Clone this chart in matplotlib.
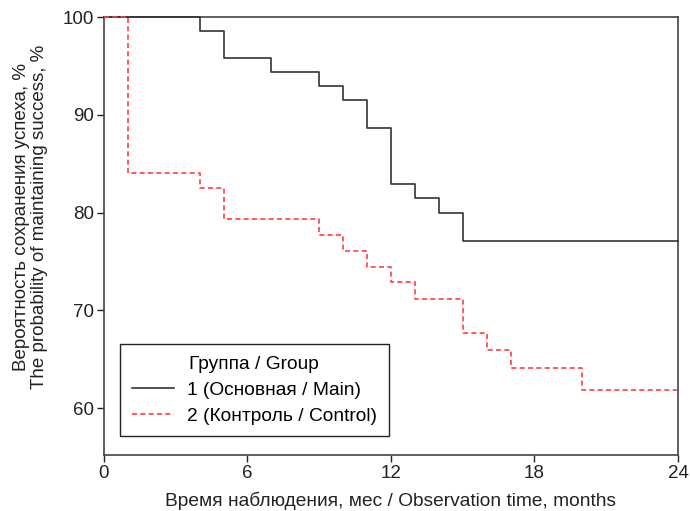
import matplotlib
matplotlib.use("Agg")
import matplotlib.pyplot as plt

plt.rcParams['font.family'] = ['Liberation Sans', 'DejaVu Sans']

# Kaplan-Meier steps (time in months, survival in %)
main_t = [0, 4, 5, 7, 9, 10, 11, 12, 13, 14, 15, 24]
main_s = [100, 98.57, 95.77, 94.37, 92.94, 91.54, 88.67, 82.94, 81.5, 80.0, 77.1, 77.1]

ctrl_t = [0, 1, 4, 5, 9, 10, 11, 12, 13, 15, 16, 17, 20, 24]
ctrl_s = [100, 84.06, 82.46, 79.3, 77.7, 76.1, 74.48, 72.9, 71.17, 67.7, 65.95, 64.1, 61.8, 61.8]

x_ticks = [0, 6, 12, 18, 24]
y_ticks = [60, 70, 80, 90, 100]

fs = 13.8

fig = plt.figure(figsize=(6.9, 5.11), dpi=100)
ax = fig.add_axes([0.1507, 0.1096, 0.8319, 0.8571])

ax.step(main_t, main_s, where='post', color='#333333', lw=1.2,
        label='1 (Основная / Main)', zorder=3, clip_on=False)
ax.step(ctrl_t, ctrl_s, where='post', color='#ff4040', lw=1.2,
        ls=(0, (3, 2)), label='2 (Контроль / Control)', zorder=3, clip_on=False)

ax.set_xlim(0, 24)
ax.set_ylim(55.2, 100)
ax.set_xticks(x_ticks)
ax.set_yticks(y_ticks)
ax.tick_params(direction='out', length=5, width=1, labelsize=13.5, colors='#222222', pad=2)
for sp in ax.spines.values():
    sp.set_color('#444444')
    sp.set_linewidth(1.2)

ax.set_xlabel('Время наблюдения, мес / Observation time, months', fontsize=fs,
              color='#222222', labelpad=7)
ax.set_ylabel('Вероятность сохранения успеха, %\nThe probability of maintaining success, %',
              fontsize=13.5, color='#222222', linespacing=1.05)
ax.yaxis.set_label_coords(-0.0976, 0.543)

leg = ax.legend(title='Группа / Group', loc='lower left',
                bbox_to_anchor=(0.028, 0.043), fontsize=fs, title_fontsize=fs,
                fancybox=False, edgecolor='#222222', framealpha=1,
                handlelength=2.2, handletextpad=0.7, borderpad=0.6,
                labelspacing=0.45, borderaxespad=0)
leg.get_frame().set_linewidth(1.0)
leg.set_zorder(5)

fig.savefig('out.png', dpi=100)
